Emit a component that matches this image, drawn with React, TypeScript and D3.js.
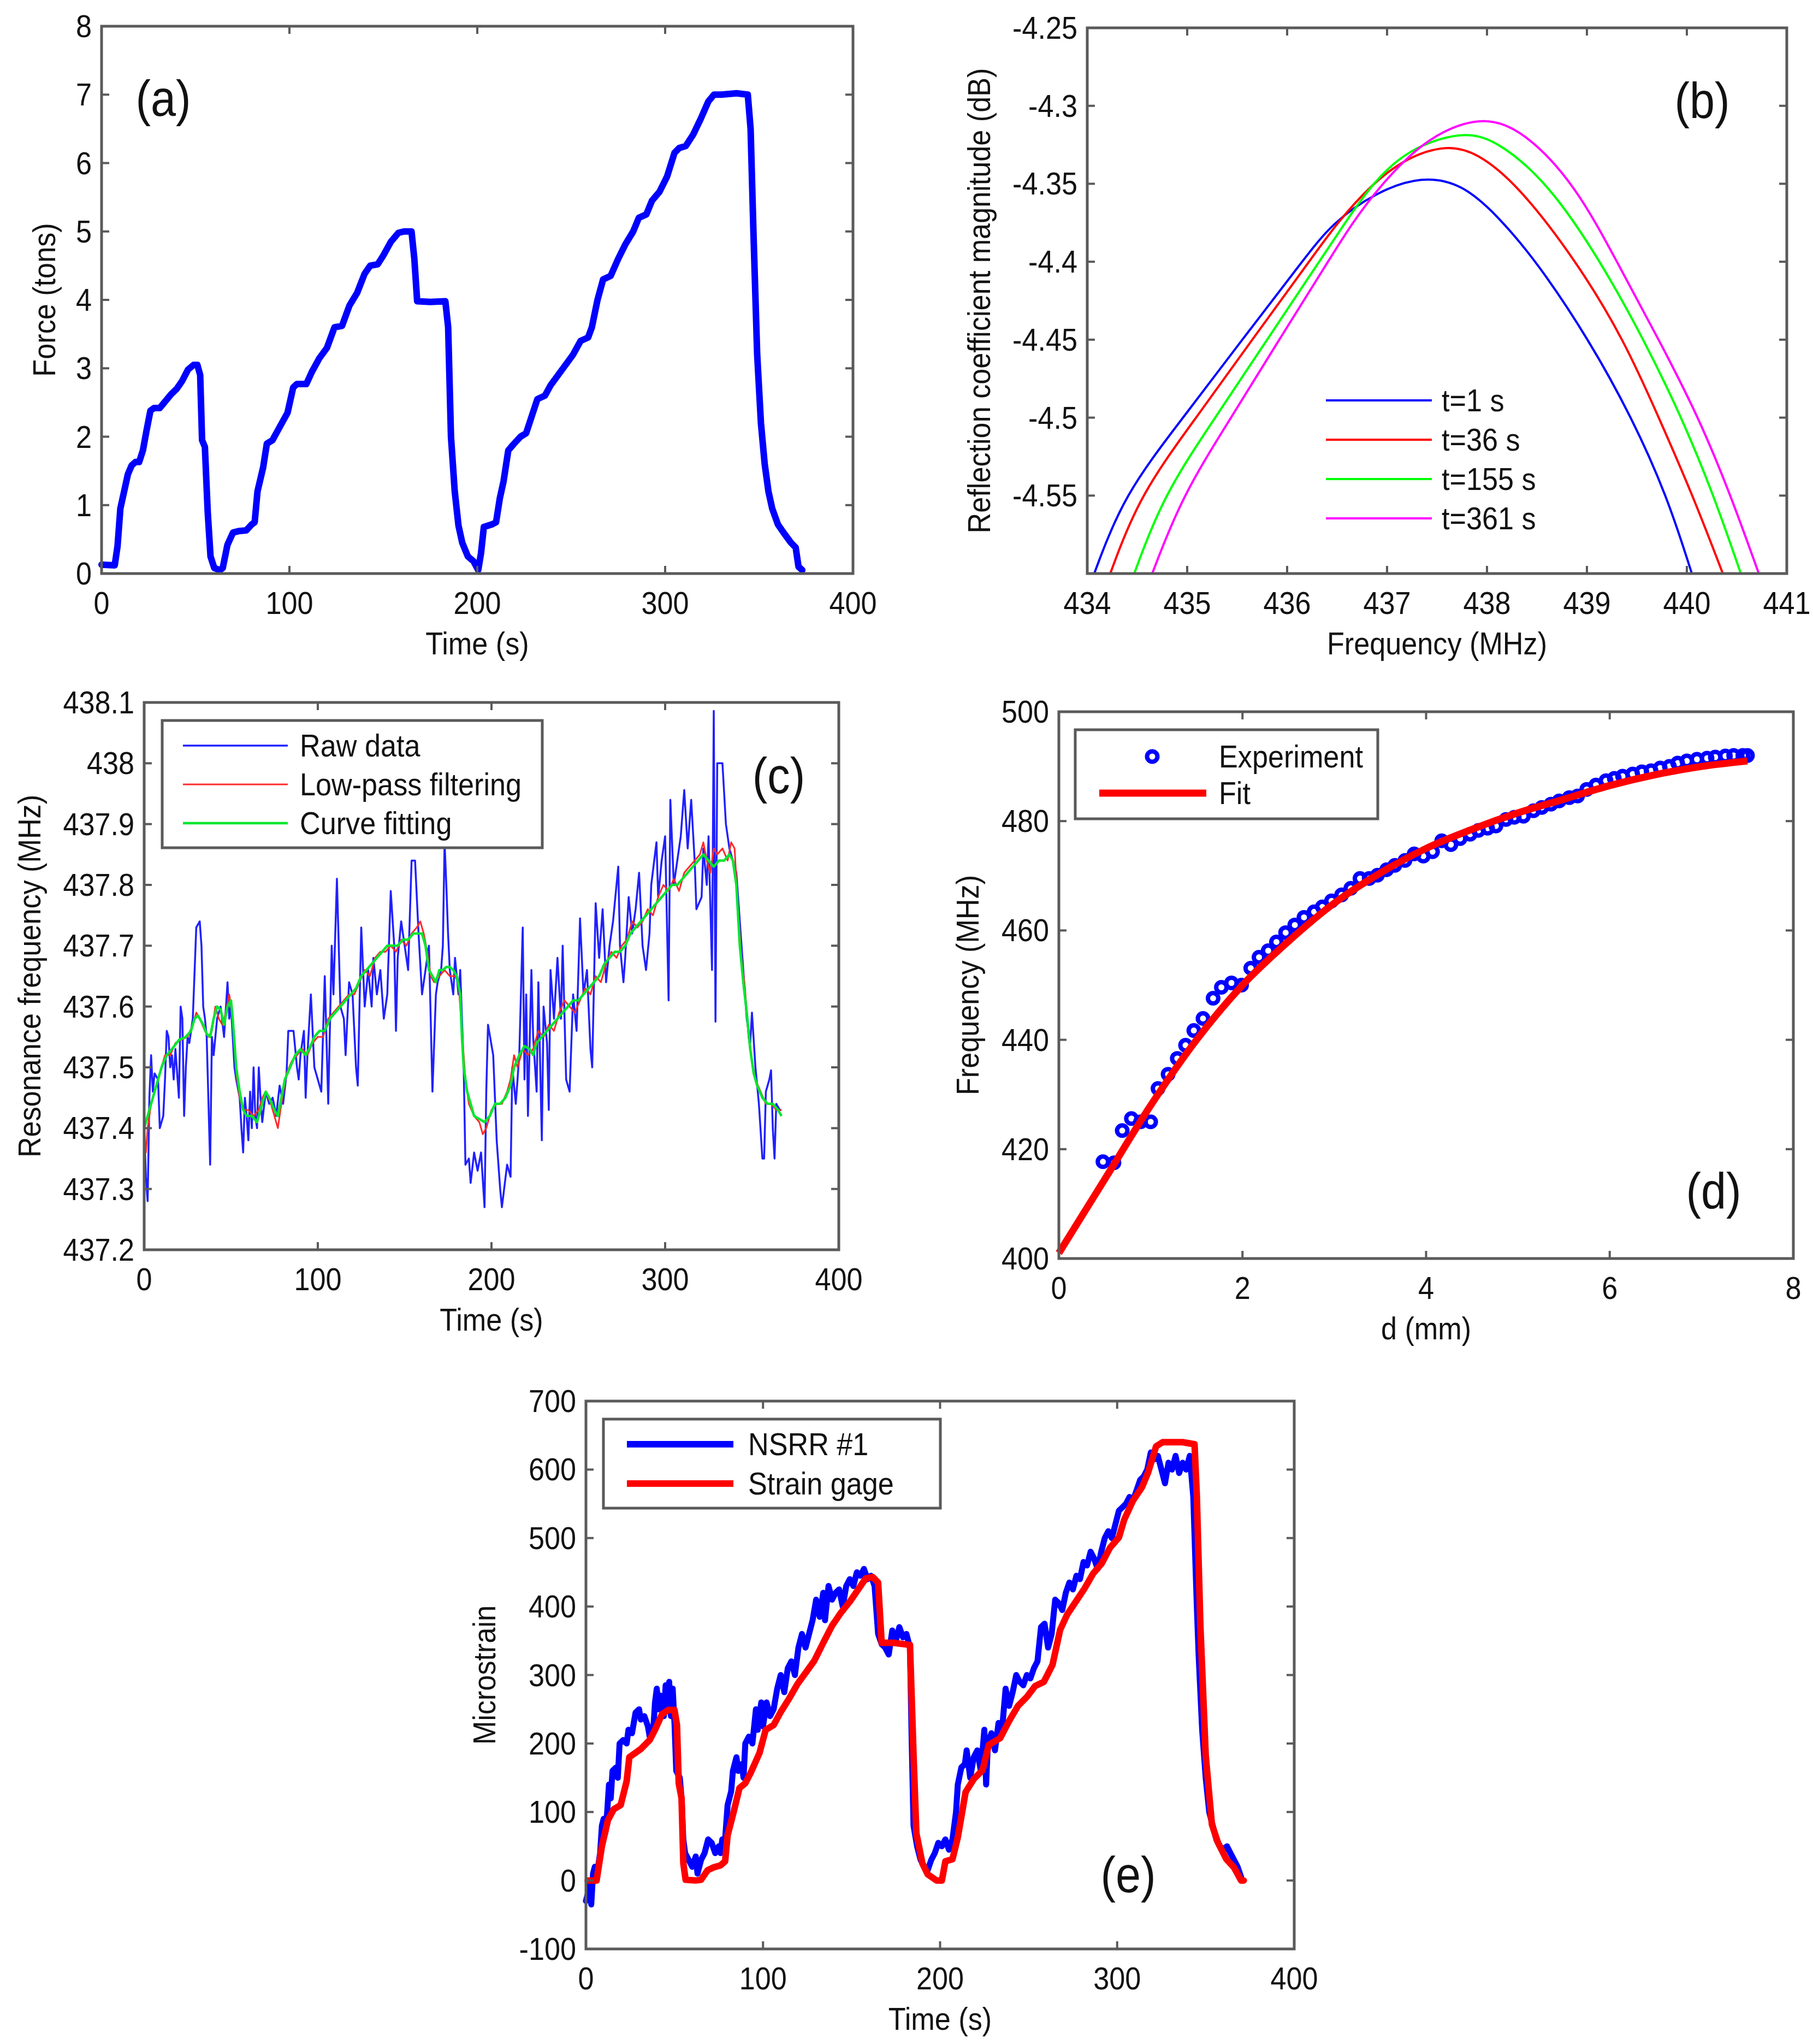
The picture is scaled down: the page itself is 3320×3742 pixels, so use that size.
import React from 'react';
import * as d3 from 'd3';

type Pt = [number, number];

const W = 3320;
const H = 3742;
const FONT = '"Liberation Sans", Arial, Helvetica, sans-serif';
const FRAME = '#5a5a5a';

// ---------- Panel (a): force vs time ----------
const aForce: Pt[] = [[0,0.13],[7,0.12],[8.5,0.4],[10,0.95],[12,1.2],[14,1.45],[16,1.58],[18,1.63],[20,1.63],[22,1.8],[24,2.1],[26,2.38],[28,2.42],[31,2.42],[34,2.52],[37,2.62],[40,2.7],[43,2.82],[46,2.98],[49,3.05],[51,3.05],[52.5,2.9],[53.5,1.95],[55,1.85],[56.5,0.9],[58,0.25],[60,0.08],[63,0.05],[64.5,0.08],[67,0.42],[70,0.6],[73,0.62],[77,0.63],[80,0.72],[81.5,0.75],[83,1.2],[86,1.55],[88,1.9],[91,1.95],[94,2.1],[97,2.25],[99,2.35],[102,2.72],[104,2.77],[109,2.77],[112,2.95],[116,3.15],[120,3.3],[124,3.6],[128,3.62],[132,3.92],[136,4.1],[140,4.38],[143,4.5],[147,4.52],[150,4.65],[154,4.85],[158,4.98],[161,5.0],[165,5.0],[166.5,4.6],[168,3.98],[175,3.97],[183,3.98],[184.5,3.6],[186,2.0],[188,1.2],[190,0.7],[192,0.45],[195,0.25],[198,0.18],[200.5,0.05],[202,0.3],[203.5,0.68],[208,0.72],[210,0.75],[212,1.1],[214,1.35],[216.5,1.8],[219,1.88],[223,2.0],[226,2.05],[229,2.3],[232,2.55],[236,2.6],[239,2.75],[243,2.9],[247,3.05],[251,3.2],[255,3.4],[259,3.45],[261,3.6],[264,4.0],[267,4.3],[271,4.35],[275,4.6],[279,4.82],[283,5.0],[286,5.2],[290,5.25],[293,5.45],[297,5.58],[301,5.8],[305,6.15],[307.5,6.22],[311,6.25],[315,6.42],[319,6.65],[323,6.9],[326,7.0],[330,7.0],[338,7.02],[344,7.0],[345.5,6.5],[347,5.0],[349,3.2],[351,2.2],[353,1.6],[355,1.2],[357,0.95],[360,0.72],[363,0.6],[367,0.45],[369.5,0.38],[371,0.1],[373,0.05]];
const aXTicks = [0, 100, 200, 300, 400];
const aYTicks = [0, 1, 2, 3, 4, 5, 6, 7, 8];

// ---------- Panel (b): reflection coefficient ----------
const bLabels = ['t=1 s', 't=36 s', 't=155 s', 't=361 s'];
const bColors = ['#0000ff', '#ff0000', '#00ff00', '#ff00ff'];
const bFreq1 = [434.07, 434.36, 434.96, 435.55, 436.15, 436.45, 436.9, 437.35, 437.75, 438.1, 438.5, 439.02, 439.45, 439.8, 440.05];
const bDb1 = [-4.6, -4.55, -4.5, -4.45, -4.4, -4.375, -4.355, -4.345, -4.35, -4.37, -4.4, -4.45, -4.5, -4.55, -4.6];
const bFreq2 = [434.23, 434.52, 435.09, 435.65, 436.22, 436.5, 436.85, 437.2, 437.6, 437.9, 438.3, 438.9, 439.37, 439.72, 440.06, 440.36];
const bDb2 = [-4.6, -4.55, -4.5, -4.45, -4.4, -4.375, -4.35, -4.333, -4.325, -4.33, -4.35, -4.4, -4.45, -4.5, -4.55, -4.6];
const bFreq3 = [434.47, 434.76, 435.28, 435.8, 436.32, 436.58, 436.85, 437.2, 437.75, 438.1, 438.62, 439.14, 439.57, 439.95, 440.27, 440.54];
const bDb3 = [-4.6, -4.55, -4.5, -4.45, -4.4, -4.375, -4.35, -4.328, -4.316, -4.322, -4.35, -4.4, -4.45, -4.5, -4.55, -4.6];
const bFreq4 = [434.65, 434.95, 435.44, 435.92, 436.41, 436.65, 436.95, 437.25, 437.55, 437.96, 438.35, 438.88, 439.3, 439.72, 440.12, 440.44, 440.72];
const bDb4 = [-4.6, -4.55, -4.5, -4.45, -4.4, -4.375, -4.35, -4.33, -4.316, -4.307, -4.315, -4.35, -4.4, -4.45, -4.5, -4.55, -4.6];
const bXTicks = [434, 435, 436, 437, 438, 439, 440, 441];
const bYTicks = [-4.55, -4.5, -4.45, -4.4, -4.35, -4.3, -4.25];
const bYTickLabels = ['-4.55', '-4.5', '-4.45', '-4.4', '-4.35', '-4.3', '-4.25'];

// ---------- Panel (c): resonance frequency ----------
const cRaw: Pt[] = [[0,437.40],[1,437.32],[2,437.28],[3,437.45],[4,437.52],[5,437.46],[6,437.49],[8,437.48],[9,437.40],[11,437.42],[12,437.48],[13,437.56],[14,437.55],[15,437.50],[16,437.52],[17,437.48],[18,437.53],[20,437.45],[21,437.60],[22,437.58],[23,437.42],[24,437.50],[25,437.55],[26,437.54],[28,437.58],[30,437.73],[32,437.74],[33,437.70],[34,437.60],[35,437.58],[36,437.55],[38,437.34],[39,437.55],[40,437.52],[42,437.58],[44,437.60],[46,437.55],[48,437.64],[49,437.58],[50,437.60],[52,437.50],[53,437.48],[55,437.45],[56,437.40],[57,437.36],[58,437.45],[59,437.42],[60,437.38],[61,437.46],[62,437.40],[63,437.50],[64,437.42],[65,437.40],[66,437.50],[67,437.45],[68,437.41],[70,437.46],[72,437.44],[74,437.45],[76,437.42],[78,437.47],[80,437.44],[82,437.49],[83,437.56],[84,437.56],[86,437.56],[88,437.50],[89,437.48],[90,437.52],[92,437.56],[93,437.45],[94,437.52],[96,437.62],[98,437.50],[100,437.48],[102,437.46],[104,437.65],[106,437.44],[108,437.70],[109,437.62],[111,437.81],[113,437.60],[115,437.58],[116,437.52],[118,437.64],[120,437.62],[122,437.50],[123,437.47],[125,437.73],[127,437.60],[129,437.66],[131,437.60],[132,437.68],[134,437.62],[136,437.66],[138,437.58],[140,437.62],[142,437.79],[144,437.70],[145,437.56],[146,437.68],[148,437.74],[150,437.70],[152,437.66],[154,437.84],[156,437.84],[158,437.72],[160,437.62],[162,437.66],[164,437.70],[166,437.46],[168,437.62],[169,437.64],[171,437.66],[172,437.70],[173,437.87],[174,437.80],[175,437.72],[176,437.66],[178,437.62],[179,437.68],[181,437.62],[182,437.66],[184,437.50],[185,437.34],[187,437.35],[188,437.31],[190,437.36],[192,437.33],[194,437.36],[196,437.27],[197,437.46],[198,437.57],[201,437.52],[203,437.38],[205,437.30],[206,437.27],[209,437.34],[211,437.32],[212,437.50],[214,437.44],[216,437.52],[218,437.73],[219,437.48],[220,437.62],[221,437.42],[223,437.66],[224,437.55],[226,437.46],[227,437.64],[229,437.38],[230,437.60],[232,437.54],[233,437.43],[234,437.66],[236,437.58],[238,437.68],[240,437.58],[241,437.70],[243,437.48],[245,437.46],[247,437.62],[249,437.56],[251,437.745],[253,437.62],[255,437.66],[257,437.53],[258,437.50],[260,437.77],[262,437.68],[264,437.76],[266,437.64],[268,437.70],[270,437.74],[273,437.83],[274,437.70],[276,437.64],[277,437.68],[279,437.78],[281,437.72],[283,437.76],[285,437.82],[287,437.70],[289,437.66],[291,437.72],[292,437.80],[295,437.87],[296,437.78],[298,437.84],[300,437.88],[302,437.61],[303,437.94],[305,437.80],[307,437.84],[309,437.88],[311,437.956],[313,437.86],[315,437.94],[317,437.84],[318,437.76],[321,437.78],[322,437.86],[324,437.80],[325,437.88],[327,437.66],[328,438.086],[329,437.575],[330,438.0],[331,438.0],[333,438.0],[335,437.90],[337,437.86],[339,437.84],[341,437.82],[343,437.74],[345,437.66],[347,437.58],[349,437.54],[350,437.59],[352,437.50],[354,437.44],[356,437.35],[357,437.35],[358,437.46],[360,437.48],[361,437.495],[362,437.40],[363,437.35],[364,437.44],[366,437.43],[367,437.43]];
const cLowPass: Pt[] = [[0,437.38],[1,437.36],[2,437.40],[4,437.44],[7,437.47],[10,437.50],[12,437.52],[15,437.52],[18,437.54],[21,437.545],[25,437.55],[28,437.57],[30,437.59],[32,437.58],[35,437.56],[37,437.55],[39,437.56],[41,437.60],[43,437.58],[45,437.57],[47,437.59],[49,437.62],[51,437.58],[53,437.49],[55,437.45],[57,437.43],[60,437.43],[63,437.42],[66,437.43],[68,437.45],[70,437.46],[73,437.44],[75,437.42],[77,437.40],[79,437.44],[82,437.49],[85,437.51],[88,437.52],[91,437.53],[94,437.52],[97,437.54],[100,437.55],[103,437.55],[106,437.58],[109,437.59],[112,437.60],[115,437.61],[118,437.62],[121,437.62],[124,437.64],[127,437.66],[130,437.65],[133,437.68],[136,437.69],[139,437.69],[142,437.70],[145,437.69],[148,437.71],[151,437.70],[154,437.72],[157,437.73],[159,437.74],[161,437.72],[163,437.69],[165,437.65],[167,437.64],[170,437.65],[173,437.66],[176,437.65],[179,437.65],[181,437.64],[183,437.56],[185,437.48],[187,437.44],[190,437.42],[193,437.41],[195,437.39],[197,437.40],[200,437.43],[203,437.44],[206,437.44],[209,437.46],[211,437.48],[213,437.52],[215,437.50],[218,437.53],[221,437.52],[224,437.53],[227,437.56],[230,437.55],[233,437.57],[236,437.56],[239,437.59],[242,437.61],[245,437.60],[248,437.59],[251,437.61],[254,437.63],[257,437.62],[260,437.65],[263,437.64],[266,437.67],[269,437.69],[272,437.68],[275,437.70],[278,437.71],[281,437.74],[284,437.73],[287,437.74],[290,437.76],[293,437.75],[296,437.78],[299,437.80],[302,437.79],[305,437.81],[308,437.79],[311,437.82],[314,437.83],[317,437.84],[320,437.85],[322,437.87],[324,437.84],[326,437.82],[328,437.86],[330,437.85],[333,437.86],[336,437.84],[338,437.87],[340,437.86],[342,437.76],[344,437.68],[346,437.63],[348,437.55],[350,437.51],[352,437.48],[355,437.46],[358,437.44],[361,437.44],[364,437.43],[367,437.43]];
const cFit: Pt[] = [[0,437.40],[2,437.42],[5,437.45],[8,437.48],[10,437.50],[13,437.52],[16,437.53],[20,437.545],[24,437.55],[27,437.56],[29,437.58],[31,437.585],[34,437.57],[36,437.555],[38,437.55],[40,437.58],[42,437.60],[44,437.595],[46,437.57],[48,437.60],[50,437.61],[51,437.58],[53,437.50],[55,437.46],[57,437.43],[59,437.42],[62,437.42],[65,437.41],[67,437.43],[70,437.46],[72,437.45],[75,437.43],[77,437.42],[79,437.45],[81,437.48],[84,437.50],[87,437.52],[90,437.53],[93,437.52],[95,437.53],[98,437.55],[101,437.56],[104,437.56],[107,437.58],[110,437.59],[113,437.60],[116,437.61],[119,437.62],[122,437.63],[125,437.65],[128,437.66],[131,437.67],[134,437.68],[137,437.69],[140,437.70],[143,437.70],[146,437.70],[149,437.71],[152,437.71],[155,437.72],[158,437.72],[160,437.72],[162,437.70],[164,437.66],[166,437.65],[168,437.64],[170,437.66],[172,437.66],[174,437.665],[176,437.665],[178,437.66],[180,437.65],[182,437.62],[183,437.55],[184,437.50],[186,437.46],[188,437.44],[190,437.42],[193,437.415],[196,437.41],[199,437.42],[202,437.44],[205,437.44],[208,437.45],[211,437.47],[213,437.50],[216,437.52],[219,437.535],[222,437.53],[224,437.52],[226,437.54],[229,437.55],[232,437.56],[235,437.57],[238,437.58],[241,437.59],[244,437.60],[247,437.61],[250,437.61],[253,437.62],[256,437.63],[259,437.64],[262,437.65],[265,437.67],[268,437.68],[271,437.69],[274,437.69],[277,437.70],[280,437.72],[283,437.73],[286,437.74],[289,437.75],[292,437.76],[295,437.77],[298,437.78],[301,437.79],[304,437.80],[307,437.80],[310,437.81],[313,437.82],[316,437.83],[319,437.84],[322,437.85],[325,437.84],[328,437.83],[331,437.84],[334,437.84],[337,437.85],[339,437.84],[341,437.80],[343,437.70],[345,437.64],[347,437.59],[349,437.53],[351,437.49],[353,437.47],[356,437.45],[359,437.44],[362,437.44],[365,437.43],[367,437.42]];
const cLabels = ['Raw data', 'Low-pass filtering', 'Curve fitting'];
const cColors = ['#2020ff', '#ff2a2a', '#00e62e'];
const cXTicks = [0, 100, 200, 300, 400];
const cYTicks = [437.2, 437.3, 437.4, 437.5, 437.6, 437.7, 437.8, 437.9, 438, 438.1];

// ---------- Panel (d): frequency vs d ----------
const dExp: Pt[] = [[0.48,417.7],[0.6,417.5],[0.69,423.4],[0.79,425.6],[0.89,425],[1.0,425],[1.08,431.1],[1.19,433.7],[1.29,436.6],[1.38,439],[1.47,441.7],[1.57,443.9],[1.68,447.6],[1.77,449.6],[1.88,450.4],[1.99,450],[2.09,453.1],[2.18,455.1],[2.28,456.3],[2.37,457.9],[2.47,459.6],[2.57,461],[2.67,462.4],[2.78,463.4],[2.87,464.3],[2.97,465.4],[3.08,466.5],[3.18,467.7],[3.28,469.5],[3.38,469.5],[3.47,470.1],[3.57,471.1],[3.66,471.9],[3.77,472.8],[3.87,474],[3.97,473.6],[4.07,474.4],[4.17,476.4],[4.27,475.7],[4.37,476.8],[4.48,477.6],[4.57,478.3],[4.67,478.7],[4.76,479.1],[4.87,480.3],[4.96,480.7],[5.06,480.9],[5.17,481.9],[5.26,482.5],[5.36,483.1],[5.45,483.7],[5.56,484.3],[5.65,484.6],[5.75,485.8],[5.85,486.6],[5.96,487.4],[6.05,487.8],[6.14,488.2],[6.25,488.6],[6.35,489],[6.45,489.2],[6.55,489.7],[6.65,490],[6.74,490.6],[6.84,491],[6.95,491.3],[7.06,491.5],[7.15,491.7],[7.26,491.9],[7.35,492],[7.45,492],[7.5,492]];
const dFitX = [0, 0.5, 1, 1.5, 2, 2.5, 3, 3.5, 4, 4.5, 5, 5.5, 6, 6.5, 7, 7.5];
const dFitY = [401, 414.5, 428, 440, 450, 458, 465, 470.5, 475, 478.5, 481.5, 484, 486.5, 488.5, 490, 491];
const dXTicks = [0, 2, 4, 6, 8];
const dYTicks = [400, 420, 440, 460, 480, 500];

// ---------- Panel (e): microstrain ----------
const eNsrr: Pt[] = [[0,-30],[1,-20],[2,0],[3,-35],[4,10],[5,20],[6,5],[8,40],[9,80],[10,90],[11,70],[12,100],[13,140],[14,120],[15,160],[17,165],[18,150],[19,200],[21,205],[23,200],[24,220],[26,215],[28,245],[30,250],[31,235],[33,240],[35,225],[36,210],[38,220],[39,260],[40,280],[41,250],[42,270],[44,240],[45,285],[46,250],[47,290],[48,240],[49,280],[50,230],[51,160],[53,150],[54,120],[55,60],[56,40],[58,30],[60,20],[62,35],[63,10],[65,30],[67,40],[69,60],[71,55],[73,40],[75,50],[76,40],[77,60],[78,40],[80,110],[82,130],[83,160],[85,180],[86,160],[88,170],[89,150],[90,200],[92,210],[94,200],[96,250],[97,220],[99,260],[100,225],[102,260],[104,240],[106,250],[108,280],[110,300],[112,275],[114,310],[116,320],[118,300],[120,340],[122,360],[124,340],[126,360],[128,380],[130,410],[132,385],[134,420],[135,380],[137,430],[139,410],[141,420],[143,425],[145,400],[147,430],[149,440],[151,430],[153,450],[155,445],[157,455],[159,440],[161,445],[163,430],[165,360],[167,345],[169,340],[171,330],[173,365],[175,350],[177,370],[179,355],[181,360],[183,340],[184,200],[185,80],[187,50],[189,30],[191,20],[193,15],[195,30],[197,40],[199,55],[201,50],[203,60],[205,45],[207,60],[209,100],[210,140],[212,165],[214,170],[215,190],[217,150],[219,180],[221,190],[223,160],[225,220],[226,140],[227,200],[229,215],[231,190],[233,230],[235,220],[237,280],[239,255],[241,275],[243,300],[245,290],[247,285],[249,300],[251,295],[253,310],[255,320],[257,370],[259,375],[261,340],[263,360],[265,410],[267,405],[269,395],[271,420],[273,435],[275,425],[277,445],[279,440],[281,465],[283,460],[285,480],[287,470],[289,455],[291,480],[293,500],[295,510],[297,500],[299,520],[301,540],[303,545],[305,550],[307,560],[309,555],[311,570],[313,585],[315,590],[317,600],[319,625],[321,615],[323,620],[325,600],[327,580],[329,610],[331,600],[333,620],[335,595],[337,610],[339,600],[341,620],[343,560],[344,480],[345,400],[346,330],[348,220],[350,150],[352,100],[354,80],[356,60],[358,50],[360,45],[362,50],[364,40],[366,30],[368,20],[370,5]];
const eGage: Pt[] = [[1,0],[6,0],[9,50],[12.4,88],[15.7,104],[19.6,110],[23,145],[24.5,180],[27.8,186],[31,192],[36,205],[39,220],[43,243],[46.5,249],[50,249],[51.4,227],[52.4,142],[54,120],[55,25],[56.3,1],[62,0],[65,1],[68.7,15],[72,19],[76,22],[78.6,28],[80,66],[83.5,101],[86.7,135],[90,142],[93,157],[98,186],[101.5,220],[106,227],[110,246],[114.6,265],[119.5,287],[124,303],[129,321],[134,347],[139,372],[144,391],[149,407],[154,426],[158,441],[162,443],[165,435],[167,347],[173.5,347],[183,344],[185,183],[186.6,69],[190,25],[193,9],[198,0],[201,0],[203,28],[207,31],[210,63],[214.4,129],[219,148],[224,161],[227.5,198],[234,208],[239,233],[244,255],[249,268],[253.7,284],[258.6,290],[263.5,315],[267.8,366],[271.7,388],[276.6,407],[281.5,426],[286.4,448],[291.3,463],[296,486],[301,501],[304,527],[309,555],[314,574],[317.5,596],[322,634],[325.7,640],[337,640],[343.7,637],[345,561],[347,372],[350,183],[353.5,82],[356.8,56],[361.7,31],[366,19],[370,0],[371.5,0]];
const eLabels = ['NSRR #1', 'Strain gage'];
const eXTicks = [0, 100, 200, 300, 400];
const eYTicks = [-100, 0, 100, 200, 300, 400, 500, 600, 700];

// ---------- helpers ----------
type Box = { l: number; r: number; t: number; b: number };

function Txt(props: { x: number; y: number; size?: number; anchor?: string; rotate?: number; children: React.ReactNode }) {
  const { x, y, size = 58, anchor = 'start', rotate = 0, children } = props;
  return (
    <text
      transform={`translate(${x},${y}) rotate(${rotate}) scale(0.9,1)`}
      fontSize={size}
      fontFamily={FONT}
      textAnchor={anchor as any}
      fill="#111"
    >
      {children}
    </text>
  );
}

function Frame(props: {
  box: Box;
  xs: d3.ScaleLinear<number, number>;
  ys: d3.ScaleLinear<number, number>;
  xTicks: number[];
  yTicks: number[];
  xFmt?: (v: number, i: number) => string;
  yFmt?: (v: number, i: number) => string;
  xLabel: string;
  yLabel: string;
  yLabelX: number;
}) {
  const { box, xs, ys, xTicks, yTicks, xLabel, yLabel, yLabelX } = props;
  const xFmt = props.xFmt || ((v: number) => String(v));
  const yFmt = props.yFmt || ((v: number) => String(v));
  const TL = 14;
  return (
    <g>
      <rect x={box.l} y={box.t} width={box.r - box.l} height={box.b - box.t} fill="none" stroke={FRAME} strokeWidth={5} />
      {xTicks.map((v, i) => (
        <g key={'x' + i}>
          <line x1={xs(v)} x2={xs(v)} y1={box.b} y2={box.b - TL} stroke={FRAME} strokeWidth={4} />
          <line x1={xs(v)} x2={xs(v)} y1={box.t} y2={box.t + TL} stroke={FRAME} strokeWidth={4} />
          <Txt x={xs(v)} y={box.b + 74} anchor="middle">{xFmt(v, i)}</Txt>
        </g>
      ))}
      {yTicks.map((v, i) => (
        <g key={'y' + i}>
          <line x1={box.l} x2={box.l + TL} y1={ys(v)} y2={ys(v)} stroke={FRAME} strokeWidth={4} />
          <line x1={box.r} x2={box.r - TL} y1={ys(v)} y2={ys(v)} stroke={FRAME} strokeWidth={4} />
          <Txt x={box.l - 18} y={ys(v) + 20} anchor="end">{yFmt(v, i)}</Txt>
        </g>
      ))}
      <Txt x={(box.l + box.r) / 2} y={box.b + 148} anchor="middle">{xLabel}</Txt>
      <Txt x={yLabelX + 21} y={(box.t + box.b) / 2} anchor="middle" rotate={-90}>{yLabel}</Txt>
    </g>
  );
}

function scales(box: Box, xd: [number, number], yd: [number, number]) {
  const xs = d3.scaleLinear().domain(xd).range([box.l, box.r]);
  const ys = d3.scaleLinear().domain(yd).range([box.b, box.t]);
  return { xs, ys };
}

function PanelLabel({ x, y, text }: { x: number; y: number; text: string }) {
  return <Txt x={x} y={y + 24} size={92} anchor="middle">{text}</Txt>;
}

// ---------- panels ----------
function PanelA() {
  const box: Box = { l: 186, r: 1562, t: 48, b: 1050 };
  const { xs, ys } = scales(box, [0, 400], [0, 8]);
  const line = d3.line<Pt>().x(d => xs(d[0])).y(d => ys(d[1]));
  return (
    <g>
      <path d={line(aForce) || ''} fill="none" stroke="#0000ff" strokeWidth={12} strokeLinejoin="round" strokeLinecap="round" />
      <Frame box={box} xs={xs} ys={ys} xTicks={aXTicks} yTicks={aYTicks} xLabel="Time (s)" yLabel="Force (tons)" yLabelX={80} />
      <PanelLabel x={299} y={188} text="(a)" />
    </g>
  );
}

function PanelB() {
  const box: Box = { l: 1991, r: 3272, t: 51, b: 1050 };
  const { xs, ys } = scales(box, [434, 441], [-4.6, -4.25]);
  const series = [
    [bFreq1, bDb1],
    [bFreq2, bDb2],
    [bFreq3, bDb3],
    [bFreq4, bDb4],
  ];
  return (
    <g>
      <clipPath id="clipB"><rect x={box.l} y={box.t} width={box.r - box.l} height={box.b - box.t} /></clipPath>
      <g clipPath="url(#clipB)">
        {series.map(([f, v], i) => {
          const pts = f.map((x, k) => [xs(x), ys(v[k])] as [number, number]);
          const p = d3.line().curve(d3.curveBasis)(pts) || '';
          return <path key={i} d={p} fill="none" stroke={bColors[i]} strokeWidth={4} />;
        })}
      </g>
      <Frame box={box} xs={xs} ys={ys} xTicks={bXTicks} yTicks={bYTicks} yFmt={(v, i) => bYTickLabels[i]} xLabel="Frequency (MHz)" yLabel="Reflection coefficient magnitude (dB)" yLabelX={1792} />
      {bLabels.map((lab, i) => (
        <g key={lab}>
          <line x1={2428} x2={2622} y1={733 + i * 72} y2={733 + i * 72} stroke={bColors[i]} strokeWidth={4} />
          <Txt x={2640} y={733 + i * 72 + 20}>{lab}</Txt>
        </g>
      ))}
      <PanelLabel x={3117} y={192} text="(b)" />
    </g>
  );
}

function PanelC() {
  const box: Box = { l: 264, r: 1536, t: 1286, b: 2288 };
  const { xs, ys } = scales(box, [0, 400], [437.2, 438.1]);
  const line = d3.line<Pt>().x(d => xs(d[0])).y(d => ys(d[1]));
  const data = [cRaw, cLowPass, cFit];
  const widths = [3.5, 3, 4.5];
  return (
    <g>
      <clipPath id="clipC"><rect x={box.l} y={box.t} width={box.r - box.l} height={box.b - box.t} /></clipPath>
      <g clipPath="url(#clipC)">
        {data.map((s, i) => (
          <path key={i} d={line(s) || ''} fill="none" stroke={cColors[i]} strokeWidth={widths[i]} strokeLinejoin="round" />
        ))}
      </g>
      <Frame box={box} xs={xs} ys={ys} xTicks={cXTicks} yTicks={cYTicks} xLabel="Time (s)" yLabel="Resonance frequency (MHz)" yLabelX={53} />
      <rect x={297} y={1319} width={993 - 297} height={1552 - 1319} fill="#fff" stroke={FRAME} strokeWidth={5} />
      {cLabels.map((lab, i) => (
        <g key={lab}>
          <line x1={335} x2={527} y1={1365 + i * 71} y2={1365 + i * 71} stroke={cColors[i]} strokeWidth={widths[i]} />
          <Txt x={549} y={1365 + i * 71 + 20}>{lab}</Txt>
        </g>
      ))}
      <PanelLabel x={1426} y={1428} text="(c)" />
    </g>
  );
}

function PanelD() {
  const box: Box = { l: 1939, r: 3284, t: 1303, b: 2304 };
  const { xs, ys } = scales(box, [0, 8], [400, 500]);
  const fitPts = dFitX.map((x, i) => [xs(x), ys(dFitY[i])] as [number, number]);
  const fit = d3.line().curve(d3.curveMonotoneX)(fitPts) || '';
  return (
    <g>
      {dExp.map((d, i) => (
        <circle key={i} cx={xs(d[0])} cy={ys(d[1])} r={9.5} fill="none" stroke="#0000ff" strokeWidth={8} />
      ))}
      <path d={fit} fill="none" stroke="#ff0000" strokeWidth={13} strokeLinecap="butt" />
      <Frame box={box} xs={xs} ys={ys} xTicks={dXTicks} yTicks={dYTicks} xLabel="d (mm)" yLabel="Frequency (MHz)" yLabelX={1771} />
      <rect x={1969} y={1336} width={2523 - 1969} height={1499 - 1336} fill="#fff" stroke={FRAME} strokeWidth={5} />
      <circle cx={2110} cy={1385} r={9.5} fill="none" stroke="#0000ff" strokeWidth={8} />
      <Txt x={2232} y={1405}>Experiment</Txt>
      <line x1={2013} x2={2209} y1={1452} y2={1452} stroke="#ff0000" strokeWidth={13} />
      <Txt x={2232} y={1472}>Fit</Txt>
      <PanelLabel x={3138} y={2188} text="(d)" />
    </g>
  );
}

function PanelE() {
  const box: Box = { l: 1073, r: 2370, t: 2565, b: 3568 };
  const { xs, ys } = scales(box, [0, 400], [-100, 700]);
  const line = d3.line<Pt>().x(d => xs(d[0])).y(d => ys(d[1]));
  return (
    <g>
      <path d={line(eNsrr) || ''} fill="none" stroke="#0000ff" strokeWidth={11} strokeLinejoin="round" strokeLinecap="round" />
      <path d={line(eGage) || ''} fill="none" stroke="#ff0000" strokeWidth={12} strokeLinejoin="round" strokeLinecap="round" />
      <Frame box={box} xs={xs} ys={ys} xTicks={eXTicks} yTicks={eYTicks} xLabel="Time (s)" yLabel="Microstrain" yLabelX={886} />
      <rect x={1105} y={2598} width={1722 - 1105} height={2761 - 2598} fill="#fff" stroke={FRAME} strokeWidth={5} />
      <line x1={1148} x2={1343} y1={2644} y2={2644} stroke="#0000ff" strokeWidth={12} />
      <Txt x={1370} y={2664}>{eLabels[0]}</Txt>
      <line x1={1148} x2={1343} y1={2716} y2={2716} stroke="#ff0000" strokeWidth={12} />
      <Txt x={1370} y={2736}>{eLabels[1]}</Txt>
      <PanelLabel x={2066} y={3440} text="(e)" />
    </g>
  );
}

export default function App() {
  return (
    <svg
      width={W}
      height={H}
      viewBox={`0 0 ${W} ${H}`}
      style={{ position: 'absolute', left: 0, top: 0, display: 'block', background: '#fff' }}
    >
      <rect x={0} y={0} width={W} height={H} fill="#fff" />
      <PanelA />
      <PanelB />
      <PanelC />
      <PanelD />
      <PanelE />
    </svg>
  );
}
